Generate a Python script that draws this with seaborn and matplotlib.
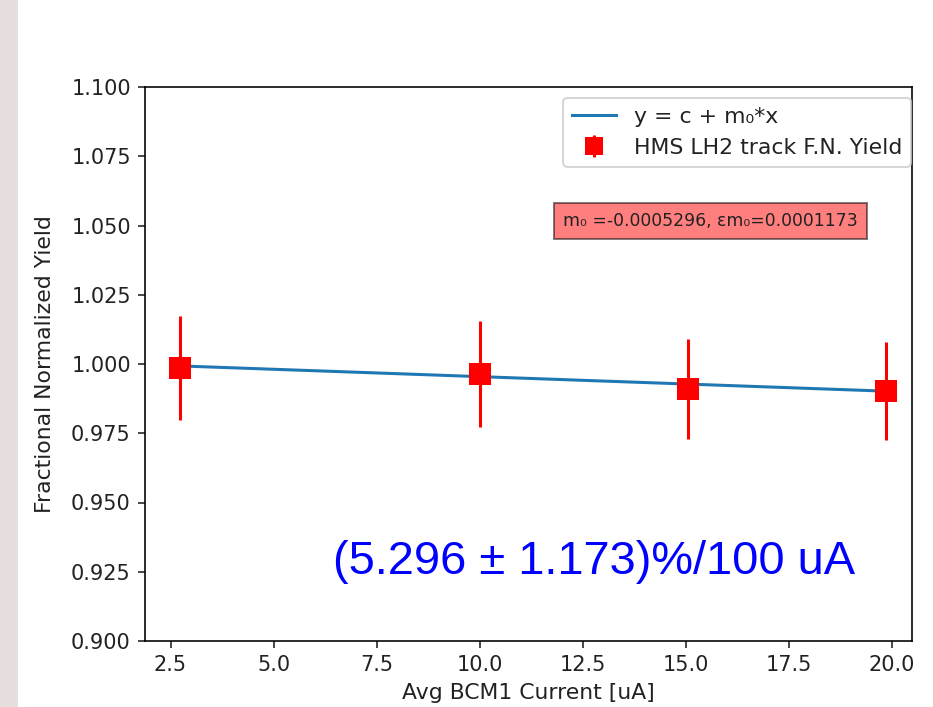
import matplotlib
matplotlib.use("Agg")
import matplotlib.pyplot as plt
import seaborn as sns
import pandas as pd
from matplotlib.patches import Rectangle

# Data
current = [2.74, 10.01, 15.06, 19.85]
yield_vals = [0.9986, 0.9964, 0.9910, 0.9903]
yield_err = [0.0188, 0.0190, 0.0179, 0.0176]
fit_x = [2.74, 19.85]
fit_y = [0.9993, 0.9902]
x_ticks = [2.5, 5.0, 7.5, 10.0, 12.5, 15.0, 17.5, 20.0]
y_ticks = [0.900, 0.925, 0.950, 0.975, 1.000, 1.025, 1.050, 1.075, 1.100]
fit_label = "y = c + m\u2080*x"
data_label = "HMS LH2 track F.N. Yield"
fit_text = "m\u2080 =-0.0005296, \u03b5m\u2080=0.0001173"
slope_text = "(5.296 \u00b1 1.173)%/100 uA"

W, H = 933, 707
DPI = 145.8
fig = plt.figure(figsize=(W / DPI, H / DPI), dpi=DPI)
fig.patches.append(Rectangle((0, 0), 18 / W, 1, transform=fig.transFigure,
                             facecolor="#e7dfdd", edgecolor="none", zorder=0))

ax = fig.add_axes([145 / W, 1 - 641 / H, (912 - 145) / W, (641 - 87) / H])

fit_df = pd.DataFrame({"x": fit_x, "y": fit_y})
sns.lineplot(data=fit_df, x="x", y="y", ax=ax, color="#1f77b4", linewidth=1.5,
             label=fit_label)
ax.errorbar(current, yield_vals, yerr=yield_err, fmt="s", color="red",
            ecolor="red", markersize=10, elinewidth=1.5, label=data_label)

ax.set_xlim(1.88, 20.49)
ax.set_ylim(0.9, 1.1)
ax.set_xticks(x_ticks)
ax.set_xticklabels([f"{v:.1f}" for v in x_ticks])
ax.set_yticks(y_ticks)
ax.set_yticklabels([f"{v:.3f}" for v in y_ticks])
ax.tick_params(labelsize=10.3, colors="#222222")
ax.set_xlabel("Avg BCM1 Current [uA]", fontsize=10.8, color="#222222")
ax.set_ylabel("Fractional Normalized Yield", fontsize=10.8, color="#222222",
              labelpad=8)

leg = ax.legend(loc="upper right", bbox_to_anchor=(911 / W, 1 - 98 / H),
                bbox_transform=fig.transFigure, borderaxespad=0, fontsize=10.9,
                markerscale=0.8)
for t in leg.get_texts():
    t.set_color("#222222")

ax.text(710.5 / W, 1 - 221 / H, fit_text, transform=fig.transFigure,
        ha="center", va="center", fontsize=8.5, color="#222222",
        bbox=dict(facecolor="red", alpha=0.5, edgecolor="black", pad=4.5))

fig.text(333 / W, 1 - 574 / H, slope_text, color="#0000ff",
         fontsize=23.2, family=["Liberation Sans", "DejaVu Sans"],
         ha="left", va="baseline")

fig.savefig("out.png", dpi=DPI)
